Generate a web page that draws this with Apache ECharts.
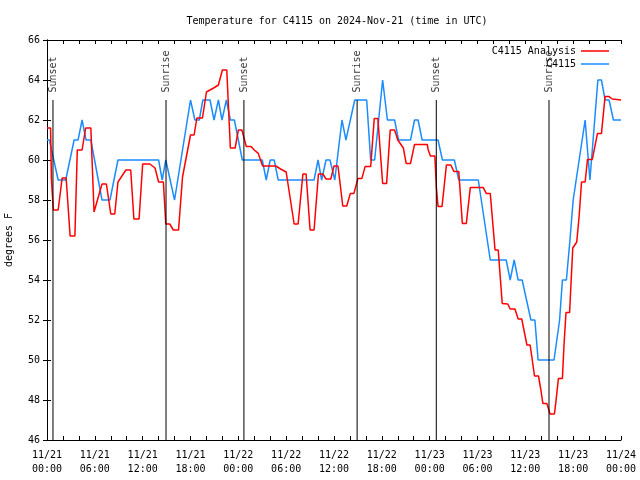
<!DOCTYPE html>
<html>
<head>
<meta charset="utf-8">
<script src="https://cdn.jsdelivr.net/npm/echarts@6/dist/echarts.min.js"></script>
<style>html,body{margin:0;padding:0;background:#fff}#c{width:640px;height:480px}</style>
</head>
<body>
<div id="c"></div>
<script>
// Hours since 2024-11-21 00:00 UTC
const analysisHours = [0,0.45,0.55,0.8,1.4,1.9,2.4,2.9,3.5,3.8,4.4,4.85,5.5,5.9,6.4,6.9,7.45,8.0,8.5,8.9,9.9,10.5,10.9,11.55,12.0,12.9,13.55,14.0,14.6,14.9,15.4,15.85,16.5,17.0,18.0,18.45,18.8,19.5,20.0,20.9,21.5,22.0,22.55,23.0,23.6,24.0,24.45,25.0,25.6,26.0,26.5,27.05,28.7,29.3,30.0,30.2,31.0,31.5,32.1,32.5,33.0,33.5,34.05,34.6,35.0,35.6,36.0,36.5,37.1,37.6,38.05,38.5,39.0,39.5,39.9,40.6,41.05,41.5,42.1,42.6,43.05,43.6,44.0,44.7,45.05,45.6,46.1,47.7,47.8,48.1,48.65,48.85,49.05,49.55,50.1,50.65,51.05,51.65,52.1,52.6,53.1,54.7,55.1,55.6,56.2,56.6,57.1,57.8,58.1,58.7,59.1,59.55,60.2,60.6,60.8,61.15,61.65,61.95,62.2,62.7,63.1,63.65,63.85,64.15,64.65,64.85,65.1,65.55,65.75,65.95,66.45,66.75,67.05,67.5,67.8,68.4,69.05,69.55,70.0,70.5,70.9,72];
const analysisTemps = [61.6,61.6,59.05,57.5,57.5,59.1,59.1,56.2,56.2,60.5,60.5,61.6,61.6,57.4,58.1,58.8,58.8,57.3,57.3,58.9,59.5,59.5,57.05,57.05,59.8,59.8,59.6,58.9,58.9,56.8,56.8,56.5,56.5,59.15,61.25,61.25,62.1,62.1,63.4,63.6,63.75,64.5,64.5,60.6,60.6,61.5,61.5,60.67,60.67,60.5,60.33,59.7,59.7,59.55,59.4,59.4,56.8,56.8,59.3,59.3,56.5,56.5,59.3,59.3,59.05,59.05,59.7,59.7,57.7,57.7,58.33,58.33,59.08,59.08,59.67,59.67,62.08,62.08,58.83,58.83,61.5,61.5,61.0,60.6,59.83,59.83,60.78,60.78,60.53,60.2,60.2,58.58,57.67,57.67,59.75,59.75,59.42,59.42,56.83,56.83,58.63,58.63,58.33,58.33,55.5,55.5,52.83,52.8,52.55,52.55,52.05,52.05,50.75,50.75,50.2,49.2,49.2,48.5,47.83,47.83,47.3,47.3,47.97,49.08,49.08,50.75,52.37,52.37,54.0,55.6,55.9,57.2,58.9,58.9,60.03,60.03,61.33,61.33,63.17,63.17,63.05,63.0];

const obsHours = [0,0.3,1.4,2.35,3.4,3.9,4.4,4.9,5.5,6.9,7.9,8.9,14.0,14.45,14.9,16.0,18.0,18.55,19.1,19.55,20.45,20.95,21.5,21.95,22.5,23.0,23.5,24.0,24.5,27.0,27.5,28.0,28.5,29.0,33.5,34.0,34.45,35.0,35.5,36.1,37.0,37.5,38.6,40.1,40.6,41.1,42.1,42.7,43.6,44.1,45.6,46.1,46.55,47.05,49.05,49.6,51.1,51.65,54.1,55.6,57.6,58.1,58.6,59.1,59.6,60.15,60.7,61.2,61.6,63.6,64.3,64.65,65.15,65.6,66.0,66.75,67.5,68.1,69.1,69.55,70.0,70.5,71.05,72];
const obsTemps = [61,61,59,59,61,61,62,61,61,58,58,60,60,59,60,58,63,62,62,63,63,62,63,62,63,62,62,61,60,60,59,60,60,59,59,60,59,60,60,59,62,61,63,63,60,60,64,62,62,61,61,62,62,61,61,60,60,59,59,55,55,54,55,54,54,53,52,52,50,50,52,54,54,56,58,60,62,59,64,64,63,63,62,62];

const sunsetHours = [0.75, 24.7, 48.83];
const sunriseHours = [14.93, 38.9, 62.97];
const sunLineTop = 63;

const xTickLabels = ['11/21\n00:00','11/21\n06:00','11/21\n12:00','11/21\n18:00','11/22\n00:00','11/22\n06:00','11/22\n12:00','11/22\n18:00','11/23\n00:00','11/23\n06:00','11/23\n12:00','11/23\n18:00','11/24\n00:00'];

const FONT = 'DejaVu Sans Mono';
const zip = (a, b) => a.map((v, i) => [v, b[i]]);

const sunEvents = sunsetHours.map(h => ({h, name: 'Sunset'}))
  .concat(sunriseHours.map(h => ({h, name: 'Sunrise'})));

const series = [
  {name: 'C4115 Analysis', type: 'line', data: zip(analysisHours, analysisTemps), symbol: 'none',
   lineStyle: {color: '#ff0000', width: 1.5}, itemStyle: {color: '#ff0000'}, z: 3},
  {name: 'C4115', type: 'line', data: zip(obsHours, obsTemps), symbol: 'none',
   lineStyle: {color: '#1a8cff', width: 1.5}, itemStyle: {color: '#1a8cff'}, z: 2}
];
sunEvents.forEach(ev => {
  series.push({type: 'line', data: [[ev.h, 46], [ev.h, sunLineTop]], symbol: 'none', silent: true,
    lineStyle: {color: '#000', width: 1}, z: 4});
});
series.push({type: 'scatter', silent: true, symbolSize: 1, itemStyle: {color: 'rgba(0,0,0,0)'}, z: 5,
  data: sunEvents.map(ev => ({value: [ev.h, sunLineTop], name: ev.name})),
  label: {show: true, formatter: p => p.name, rotate: 90, position: 'top', distance: 7,
    align: 'left', verticalAlign: 'middle', color: '#000', fontFamily: FONT, fontSize: 10}});

const axisCommonX = {type: 'value', min: 0, max: 72, interval: 2,
  axisLine: {show: true, lineStyle: {color: '#000'}},
  axisTick: {show: true, inside: true, length: 4, lineStyle: {color: '#000'}},
  splitLine: {show: false}};
const axisCommonY = {type: 'value', min: 46, max: 66, interval: 2,
  axisLine: {show: true, lineStyle: {color: '#000'}},
  axisTick: {show: true, inside: true, length: 4, lineStyle: {color: '#000'}},
  splitLine: {show: false}};

const chart = echarts.init(document.getElementById('c'), null, {renderer: 'canvas'});
chart.setOption({
  animation: false,
  backgroundColor: '#fff',
  textStyle: {fontFamily: FONT, fontSize: 10, color: '#000'},
  title: {text: 'Temperature for C4115 on 2024-Nov-21 (time in UTC)', left: 332, top: 11, textAlign: 'center',
    textStyle: {fontFamily: FONT, fontSize: 10, fontWeight: 'normal', color: '#000'}},
  legend: {data: ['C4115 Analysis', 'C4115'], orient: 'vertical', right: 31, top: 45, align: 'right',
    icon: 'rect', itemWidth: 28, itemHeight: 1.5, itemGap: 1, padding: 0,
    textStyle: {fontFamily: FONT, fontSize: 10, lineHeight: 12, color: '#000', padding: [0, 0, 0, 0]}},
  grid: {left: 47, right: 19, top: 40, bottom: 40, show: false, containLabel: false, outerBoundsMode: 'none'},
  xAxis: [
    Object.assign({}, axisCommonX, {position: 'bottom',
      axisLabel: {margin: 8, lineHeight: 14, fontFamily: FONT, fontSize: 10, color: '#000',
        formatter: v => (v % 6 === 0 ? xTickLabels[v / 6] : '')}}),
    Object.assign({}, axisCommonX, {position: 'top', axisLabel: {show: false}})
  ],
  yAxis: [
    Object.assign({}, axisCommonY, {position: 'left', name: 'degrees F', nameLocation: 'middle', nameRotate: 90, nameGap: 33,
      nameTextStyle: {fontFamily: FONT, fontSize: 10, color: '#000'},
      axisLabel: {margin: 7, fontFamily: FONT, fontSize: 10, color: '#000'}}),
    Object.assign({}, axisCommonY, {position: 'right', axisLabel: {show: false}})
  ],
  series: series
});
</script>
</body>
</html>
